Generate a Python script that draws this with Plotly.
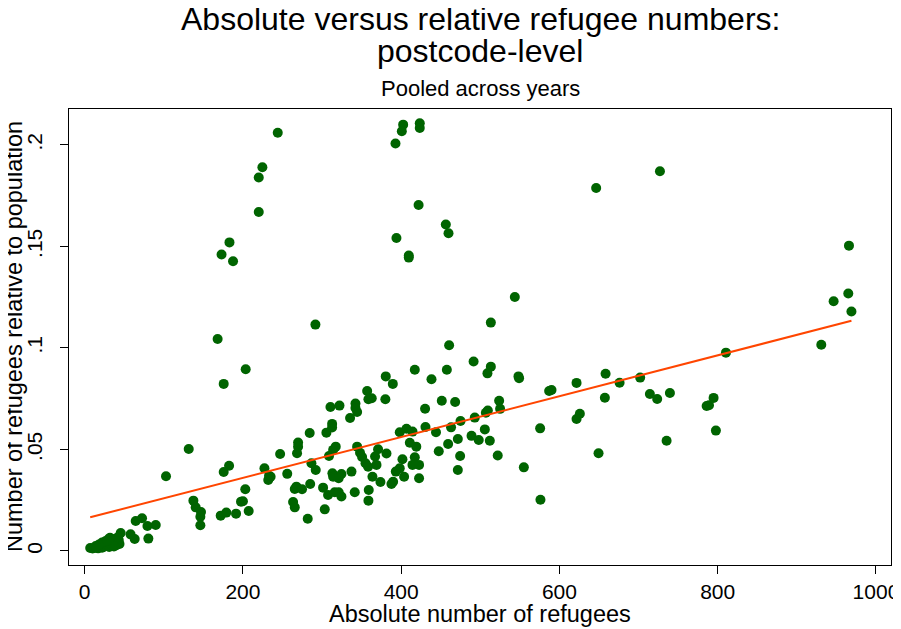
import plotly.graph_objects as go

# Absolute number of refugees (x) and refugees relative to population (y)
refugees_abs = [
    # high outliers
    244, 224.6, 220, 220, 183, 173, 187.5, 291.6, 402.5, 423.5, 423.5, 400.8, 392.8,
    727, 646.4, 422, 456.4, 459.8, 394, 409.6, 409.6, 543.6, 513.3,
    # right side
    965.9, 965, 946.5, 969, 930.9, 810.4,
    590, 587, 621.6, 658.3, 676, 702, 657.4, 714.3, 723.5, 739.6, 786, 789, 794.8, 797.7,
    735.4, 625.8, 621.6, 575.6, 649.4, 576,
    # lower-left
    168, 203.5, 175.7, 131.5, 102.8, 284.4, 269.7, 269.7, 268.4, 247, 182.5, 175.7, 227.2,
    233, 235, 232, 256, 286.6, 292, 285, 267.6, 265.5, 274.7, 263.4, 265.5, 281.9, 203,
    197.6, 200, 207.3, 191.3, 179, 171.9, 137.4, 140.3, 147, 146.2, 146.2, 64.5, 72.5,
    79.3, 89.8, 80.5, 58, 63.2, 45.5,
    # middle
    460.6, 491.5, 513.3, 509, 457.7, 417.2, 438.3, 380.5, 389.4, 548.2, 549, 357, 358.6,
    362.8, 380, 342.2, 342.2, 344.3, 335.4, 310.6, 322, 312.7, 312.7, 305.5, 451.3, 468.2,
    430.2, 523.8, 525, 509.5, 507, 493, 475, 463, 430.7, 444, 398.2, 406.7, 414.3, 410.9,
    419.1, 505.7, 488.9, 498, 512, 471.6, 459.3, 447.5, 474.5, 471.6, 522, 555, 317.3, 314,
    308.8, 344.3, 348, 350.6, 370.8, 367, 381.4, 354.9, 358.2, 368.8, 401.6, 417.2, 414.3,
    422.6, 398.2, 393.2, 403.7, 422.6, 363.7, 373.8, 389.8, 387.7, 313.1, 314, 324.5, 337.2,
    321, 301.3, 307.6, 316, 321, 324.5, 341.3, 359, 358.6, 303.4,
    # cluster near the origin
    7, 10, 12, 15, 17, 19, 20, 22, 24, 25, 27, 28, 30, 31, 33, 34, 35, 36, 38, 39, 40,
    41, 43, 44, 22, 26, 30, 18, 14, 42, 37, 32, 29,
]
refugees_rel = [
    0.206, 0.189, 0.184, 0.167, 0.152, 0.146, 0.1427, 0.1115, 0.210, 0.2107, 0.2083, 0.2067, 0.2007,
    0.187, 0.1788, 0.1704, 0.1608, 0.1565, 0.1542, 0.1455, 0.1445, 0.1251, 0.1125,
    0.1504, 0.1268, 0.123, 0.118, 0.1016, 0.0977,
    0.0793, 0.0788, 0.0828, 0.0873, 0.0829, 0.0854, 0.0755, 0.0773, 0.0749, 0.0778, 0.0714, 0.0718, 0.0754, 0.0593,
    0.0543, 0.0676, 0.065, 0.0604, 0.0481, 0.0252,
    0.1044, 0.0895, 0.0823, 0.0502, 0.0368, 0.0581, 0.0534, 0.0514, 0.0481, 0.0478, 0.042, 0.0389, 0.0407,
    0.037, 0.0366, 0.035, 0.038, 0.0432, 0.0399, 0.033, 0.0317, 0.0305, 0.0304, 0.0241, 0.0215, 0.0159, 0.0304,
    0.0243, 0.0245, 0.0197, 0.0184, 0.0189, 0.0174, 0.0248, 0.0215, 0.0192, 0.0169, 0.0127, 0.0148, 0.0161,
    0.0123, 0.0128, 0.0061, 0.0082, 0.0059, 0.0089,
    0.1013, 0.0933, 0.0908, 0.0875, 0.0893, 0.0893, 0.0846, 0.0860, 0.0823, 0.086, 0.0851, 0.0788, 0.0747,
    0.0752, 0.0747, 0.0726, 0.0704, 0.0685, 0.0655, 0.0709, 0.0716, 0.0626, 0.0608, 0.0583, 0.074, 0.0734,
    0.0701, 0.074, 0.070, 0.0692, 0.0681, 0.0657, 0.064, 0.0609, 0.0611, 0.0585, 0.0585, 0.0602, 0.0588, 0.0533,
    0.0514, 0.0599, 0.0567, 0.0547, 0.0543, 0.0552, 0.0527, 0.0491, 0.0468, 0.0399, 0.047, 0.0412, 0.0514, 0.0498,
    0.0468, 0.0514, 0.0484, 0.0463, 0.0501, 0.0465, 0.048, 0.0432, 0.0415, 0.0424, 0.0452, 0.0462, 0.0424,
    0.0424, 0.0407, 0.0391, 0.0366, 0.0358, 0.0366, 0.034, 0.0341, 0.033, 0.0383, 0.0366, 0.0379, 0.0391,
    0.0358, 0.0312, 0.0276, 0.0289, 0.0289, 0.0268, 0.0289, 0.03, 0.0248, 0.0205,
    0.0015, 0.0012, 0.0015, 0.0018, 0.0013, 0.002, 0.0025, 0.0016, 0.003, 0.0022, 0.0035, 0.0028, 0.004, 0.002,
    0.0045, 0.003, 0.0052, 0.0038, 0.0046, 0.006, 0.0028, 0.0042, 0.0055, 0.0035, 0.0042, 0.0048, 0.0058,
    0.0032, 0.0025, 0.0068, 0.0022, 0.0065, 0.0052,
]

# Linear fit
fit_intercept = 0.0159
fit_slope = 0.0001006

x_ticks = [0, 200, 400, 600, 800, 1000]
y_ticks = [0, 0.05, 0.1, 0.15, 0.2]
y_tick_labels = ["0", ".05", ".1", ".15", ".2"]

title_line1 = "Absolute versus relative refugee numbers:"
title_line2 = "postcode-level"
subtitle = "Pooled across years"
x_title = "Absolute number of refugees"
y_title = "Number of refugees relative to population"

FONT = "Liberation Sans, Arial, Helvetica, sans-serif"

# the page body adds an 8px margin, so the figure is drawn 8px in from the window corner
OFF = 8
W, H = 901 - OFF, 629 - OFF
ML, MR, MT, MB = 69 - OFF, 10, 109 - OFF, 64
PW, PH = W - ML - MR, H - MT - MB


def py(win_y):
    # window pixel row -> paper coordinate
    return (H - MB - (win_y - OFF)) / PH


def pxx(win_x):
    return ((win_x - OFF) - ML) / PW


fit_x = [min(refugees_abs), max(refugees_abs)]
fit_y = [fit_intercept + fit_slope * v for v in fit_x]

fig = go.Figure()
fig.add_trace(go.Scatter(
    x=refugees_abs, y=refugees_rel, mode="markers",
    marker=dict(color="#006400", size=10, line=dict(width=0)),
    showlegend=False, hoverinfo="x+y",
))
fig.add_trace(go.Scatter(
    x=fit_x, y=fit_y, mode="lines",
    line=dict(color="#FF4500", width=2),
    showlegend=False,
))

ann_font = dict(family=FONT, color="black")
fig.update_layout(
    width=W, height=H,
    margin=dict(l=ML, r=MR, t=MT, b=MB, autoexpand=False),
    paper_bgcolor="white", plot_bgcolor="white",
    font=dict(family=FONT, color="black"),
    annotations=[
        dict(text=title_line1, xref="paper", yref="paper", x=0.5, y=py(19),
             xanchor="center", yanchor="middle", showarrow=False,
             font=dict(size=32, **ann_font)),
        dict(text=title_line2, xref="paper", yref="paper", x=0.5, y=py(51),
             xanchor="center", yanchor="middle", showarrow=False,
             font=dict(size=32, **ann_font)),
        dict(text=subtitle, xref="paper", yref="paper", x=0.5, y=py(88),
             xanchor="center", yanchor="middle", showarrow=False,
             font=dict(size=22, **ann_font)),
        dict(text=x_title, xref="paper", yref="paper", x=0.5, y=py(614),
             xanchor="center", yanchor="middle", showarrow=False,
             font=dict(size=23.5, **ann_font)),
        dict(text=y_title, xref="paper", yref="paper", x=pxx(14), y=0.5,
             xanchor="center", yanchor="middle", showarrow=False, textangle=-90,
             font=dict(size=23.5, **ann_font)),
    ],
)
fig.update_xaxes(
    range=[-19.8, 1019], tickvals=x_ticks, ticks="outside", ticklen=8,
    tickcolor="black", tickfont=dict(size=21), automargin=False,
    showline=True, mirror=True, linecolor="black", linewidth=1,
    showgrid=False, zeroline=False,
)
fig.update_yaxes(
    range=[-0.0069, 0.2177], tickvals=y_ticks, ticktext=y_tick_labels,
    tickangle=-90, ticks="outside", ticklen=8, tickcolor="black",
    tickfont=dict(size=21), automargin=False, ticklabelstandoff=10,
    showline=True, mirror=True, linecolor="black", linewidth=1,
    showgrid=False, zeroline=False,
)

fig.write_html("out.html")
